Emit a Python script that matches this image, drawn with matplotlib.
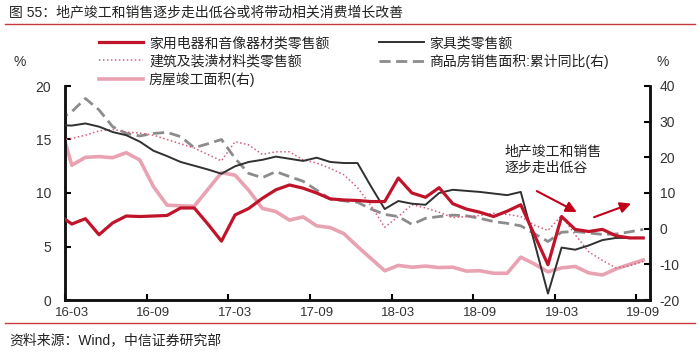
import numpy as np
import matplotlib
matplotlib.use("Agg")
import matplotlib.pyplot as plt

plt.rcParams['font.family'] = ['Liberation Sans', 'Noto Sans CJK SC', 'DejaVu Sans']
plt.rcParams['axes.unicode_minus'] = False

# months 2016-02 .. 2019-09
months = [f"{y % 100:02d}-{m:02d}" for y in range(2016, 2020) for m in range(1, 13)][1:45]
tick_labels = ["16-03", "16-09", "17-03", "17-09", "18-03", "18-09", "19-03", "19-09"]

appliance = [8.0, 7.1, 7.6, 6.1, 7.2, 7.85, 7.8, 7.85, 7.9, 8.6, 8.6, 7.1, 5.5, 7.95, 8.55,
             9.5, 10.3, 10.75, 10.45, 10.0, 9.45, 9.35, 9.3, 9.2, 9.2, 11.4, 10.0, 9.6, 10.5,
             9.0, 8.5, 8.2, 7.8, 8.3, 8.9, 6.1, 3.3, 7.8, 6.6, 6.4, 6.6, 6.0, 5.8, 5.8]
furniture = [16.35, 16.3, 16.5, 16.2, 15.7, 15.4, 14.8, 13.95, 13.45, 12.9, 12.55, 12.2, 11.8,
             12.5, 12.9, 13.1, 13.4, 13.2, 13.0, 13.3, 12.9, 12.8, 12.8, 10.6, 8.5, 9.25, 9.0,
             8.9, 10.0, 10.3, 10.2, 10.1, 9.95, 9.8, 10.1, 5.4, 0.6, 4.9, 4.7, 5.1, 5.6, 5.8,
             5.8, 5.8]
building = [14.9, 15.1, 15.4, 15.8, 15.95, 15.7, 15.6, 15.4, 15.0, 14.6, 14.2, 13.6, 13.0,
            14.8, 14.5, 13.6, 13.85, 13.85, 13.1, 12.8, 12.3, 11.7, 10.5, 8.8, 6.8, 7.8, 8.9,
            8.6, 8.2, 7.7, 7.8, 7.9, 8.1, 8.0, 7.8, 7.0, 6.5, 7.9, 6.1, 4.5, 3.7, 3.0, 3.2, 3.6]
sales_area = [30.5, 32.8, 36.5, 33.3, 28.6, 26.7, 26.0, 26.7, 27.0, 25.8, 22.7, 23.8, 25.0,
              19.7, 15.5, 14.3, 16.0, 14.6, 13.3, 10.8, 8.3, 7.8, 7.4, 5.5, 4.0, 3.4, 1.2, 2.9,
              3.4, 3.8, 3.6, 2.9, 2.0, 1.5, 0.8, -1.4, -3.6, -1.0, -0.8, -1.2, -1.6, -1.5, -0.9,
              -0.2]
completed = [31.0, 17.8, 20.0, 20.2, 19.9, 21.3, 19.25, 11.8, 6.6, 6.4, 6.3, 11.0, 15.7, 15.0,
             10.8, 5.7, 4.8, 2.4, 3.3, 0.8, 0.3, -1.4, -5.0, -8.4, -11.8, -10.3, -10.8, -10.5,
             -10.9, -10.8, -11.9, -11.8, -12.5, -12.5, -8.0, -9.9, -12.1, -11.0, -10.6, -12.4,
             -13.0, -11.3, -10.0, -8.8]

names = ["家用电器和音像器材类零售额", "家具类零售额", "建筑及装潢材料类零售额",
         "商品房销售面积:累计同比(右)", "房屋竣工面积(右)"]

x = np.arange(len(months)) - 1  # 16-03 at 0

fig = plt.figure(figsize=(7.0, 3.55), dpi=100)
ax = fig.add_axes([65/700, 55/355, 585/700, 214/355])
ax2 = ax.twinx()

l_app, = ax.plot(x, appliance, color='#C0142B', lw=2.3, zorder=5, label=names[0])
l_fur, = ax.plot(x, furniture, color='#303030', lw=1.4, zorder=4, label=names[1])
l_bld, = ax.plot(x, building, color='#D0607A', lw=1.1, ls=(0, (1, 1.6)), zorder=3, label=names[2])
l_sal, = ax2.plot(x, sales_area, color='#8C8C8C', lw=2.0, ls=(0, (4, 2)), zorder=3, label=names[3])
l_cmp, = ax2.plot(x, completed, color='#E8A2B2', lw=2.6, zorder=2, label=names[4])

ax.set_zorder(ax2.get_zorder() + 1)
ax.patch.set_visible(False)

ax.set_xlim(-0.5, 42.5)
ax.set_ylim(0, 20)
ax2.set_ylim(-20, 40)
ax.set_yticks([0, 5, 10, 15, 20])
ax2.set_yticks([-20, -10, 0, 10, 20, 30, 40])

tick_pos = [months.index(t) - 1 for t in tick_labels]
ax.set_xticks([p - 0.5 for p in tick_pos])
ax.set_xticklabels([])
ax.set_xticks(tick_pos, minor=True)
ax.set_xticklabels(tick_labels, minor=True)
ax.tick_params(axis='x', which='major', direction='in', length=4, width=1.5)
ax.tick_params(axis='x', which='minor', length=0, pad=5, labelsize=9.5, labelcolor='#333333')
ax.tick_params(axis='y', direction='in', length=4, width=1.5, pad=10, labelsize=10, labelcolor='#333333')
ax2.tick_params(axis='y', direction='in', length=4, width=1.5, pad=7, labelsize=10, labelcolor='#333333')

for a in (ax, ax2):
    a.spines['top'].set_visible(False)
    for s in ('left', 'right', 'bottom'):
        a.spines[s].set_linewidth(1.8)
        a.spines[s].set_color('#111111')

fig.text(20/700, 1 - 62/355, "%", ha='center', va='center', fontsize=10, color='#333333')
fig.text(663/700, 1 - 62/355, "%", ha='center', va='center', fontsize=10, color='#333333')

leg = fig.legend(handles=[l_app, l_bld, l_cmp, l_fur, l_sal], ncol=2, frameon=False,
                 loc='upper left', bbox_to_anchor=(99/700, 1 - 36/355), fontsize=10,
                 handlelength=3.2, handletextpad=0.4, columnspacing=3.6, labelspacing=0.3,
                 borderpad=0, borderaxespad=0)
for t in leg.get_texts():
    t.set_color('#222222')

fig.text(9/700, 1 - 12/355, "图 55：地产竣工和销售逐步走出低谷或将带动相关消费增长改善",
         ha='left', va='center', fontsize=10, color='#222222')
fig.add_artist(plt.Line2D([5/700, 695/700], [1 - 24/355, 1 - 24/355], color='#C8383F', lw=1.0))
fig.add_artist(plt.Line2D([5/700, 695/700], [1 - 323/355, 1 - 323/355], color='#C8383F', lw=1.0))
fig.text(9/700, 1 - 340/355, "资料来源：Wind，中信证券研究部", ha='left', va='center',
         fontsize=10, color='#222222')

ax.text(31.8, 14.5, "地产竣工和销售\n逐步走出低谷", ha='left', va='top', fontsize=10,
        color='#222222', linespacing=1.15, zorder=10)
ax.annotate("", xy=(37.3, 8.1), xytext=(34.0, 10.3),
            arrowprops=dict(arrowstyle='-|>', color='#C00018', lw=1.5, mutation_scale=16))
ax.annotate("", xy=(41.3, 9.1), xytext=(38.2, 7.65),
            arrowprops=dict(arrowstyle='-|>', color='#C00018', lw=1.5, mutation_scale=16))

fig.savefig("out.png", dpi=100)
